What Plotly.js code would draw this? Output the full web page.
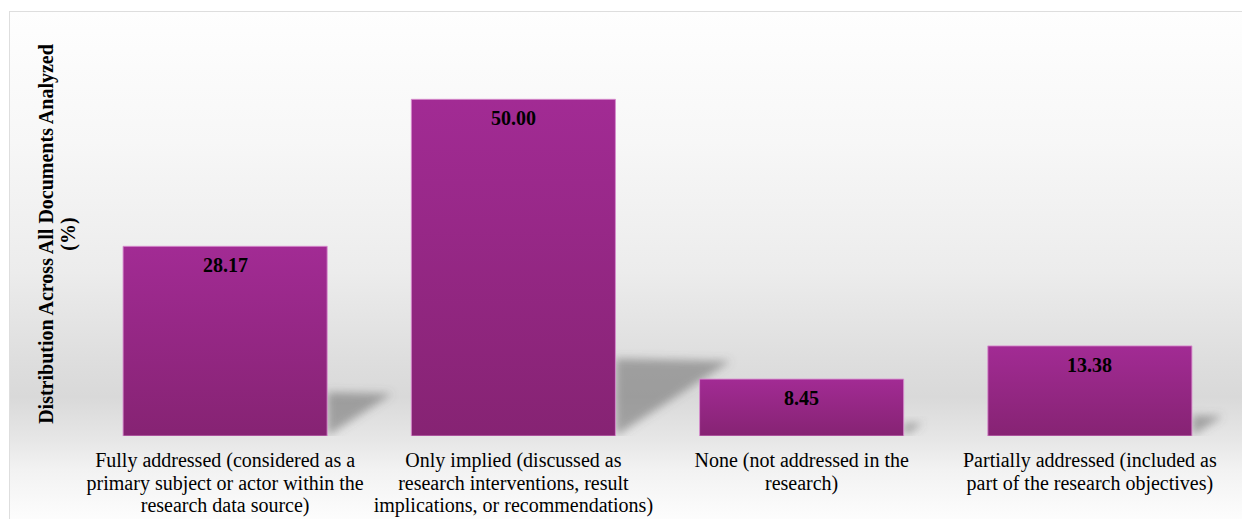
<!DOCTYPE html>
<html>
<head>
<meta charset="utf-8">
<script src="https://cdn.plot.ly/plotly-3.0.1.min.js"></script>
<style>
  html, body { margin: 0; padding: 0; background: #ffffff; }
  #wrap { position: relative; width: 1242px; height: 519px; overflow: hidden; }
  #frame {
    position: absolute; left: 9px; top: 11px; width: 1240px; height: 520px;
    border-left: 1px solid #dedede; border-top: 1px solid #dedede;
    background: linear-gradient(to bottom,
      #fefefe 0%, #f7f7f7 25%, #ececec 50%, #dddddd 68%, #d9d9d9 74%,
      #e6e6e6 82%, #f2f2f2 88%, #fafafa 95%, #ffffff 100%);
  }
  #chart { position: absolute; left: 0; top: 0; width: 1242px; height: 519px; }
</style>
</head>
<body>
<div id="wrap">
  <div id="frame"></div>
  <div id="chart"></div>
</div>
<script>
// Share of analysed documents by how the subject is addressed
const categories = [
  'Fully addressed (considered as a<br>primary subject or actor within the<br>research data source)',
  'Only implied (discussed as<br>research interventions, result<br>implications, or recommendations)',
  'None (not addressed in the<br>research)',
  'Partially addressed (included as<br>part of the research objectives)'
];
const shares = [28.17, 50.00, 8.45, 13.38];
const positions = [0, 1, 2, 3];

const serif = '"Liberation Serif", "Times New Roman", Times, serif';
const barWidth = 0.708;

// value labels sitting just inside the top of each bar
const labels = shares.map((v, i) => ({
  x: positions[i], y: v, xref: 'x', yref: 'y',
  text: v.toFixed(2), showarrow: false,
  yanchor: 'top', yshift: -6,
  font: { family: serif, size: 20, color: '#000000', weight: 700 }
}));

// soft floor shadow cast to the right of every bar
const shadows = shares.map((v, i) => {
  const xr = positions[i] + barWidth / 2;
  const h = 0.23 * v;
  const len = 0.008 * v;
  return {
    type: 'path', xref: 'x', yref: 'y', layer: 'below',
    path: `M ${xr} 0 L ${xr} ${h} L ${xr + len} ${h * 0.97} Z`,
    fillcolor: 'rgba(95,95,95,0.5)', line: { width: 0 }
  };
});

const data = [{
  type: 'bar',
  x: positions,
  y: shares,
  width: barWidth,
  marker: { color: '#952890', line: { color: 'rgba(215,140,205,0.9)', width: 1 } },
  hoverinfo: 'skip'
}];

const layout = {
  width: 1242, height: 519,
  margin: { l: 81, r: 8, t: 32, b: 83 },
  paper_bgcolor: 'rgba(0,0,0,0)',
  plot_bgcolor: 'rgba(0,0,0,0)',
  showlegend: false,
  font: { family: serif, color: '#000000' },
  xaxis: {
    type: 'linear', range: [-0.5, 3.5],
    tickmode: 'array', tickvals: positions, ticktext: categories,
    showgrid: false, zeroline: false, showline: false, ticks: '',
    tickfont: { family: serif, size: 20, color: '#000000' },
    ticklabelstandoff: 10,
    fixedrange: true
  },
  yaxis: {
    range: [0, 60], showgrid: false, zeroline: false, showline: false,
    showticklabels: false, ticks: '', fixedrange: true,
    title: {
      text: 'Distribution Across All Documents Analyzed<br>(%)',
      font: { family: serif, size: 20, color: '#000000', weight: 700 },
      standoff: 0
    }
  },
  annotations: labels,
  shapes: shadows
};

// tighten the spacing between wrapped lines of a text element
function setLineSpacing(root, selector, spacing) {
  root.querySelectorAll(selector).forEach(t => {
    t.querySelectorAll('tspan.line').forEach(ts => {
      const dy = ts.getAttribute('dy');
      if (dy && dy.endsWith('em')) {
        const n = parseFloat(dy) / 1.3;
        ts.setAttribute('dy', (n * spacing) + 'em');
      }
    });
  });
}

Plotly.newPlot('chart', data, layout, { displayModeBar: false, staticPlot: true }).then(gd => {
  const svgNS = 'http://www.w3.org/2000/svg';
  const svg = gd.querySelector('svg.main-svg');
  let defs = svg.querySelector('defs');
  if (!defs) { defs = document.createElementNS(svgNS, 'defs'); svg.insertBefore(defs, svg.firstChild); }

  // vertical shading for the bars
  const grad = document.createElementNS(svgNS, 'linearGradient');
  grad.setAttribute('id', 'barShade');
  grad.setAttribute('x1', '0'); grad.setAttribute('y1', '0');
  grad.setAttribute('x2', '0'); grad.setAttribute('y2', '1');
  [['0%', '#a22b94'], ['100%', '#862373']].forEach(([o, c]) => {
    const s = document.createElementNS(svgNS, 'stop');
    s.setAttribute('offset', o); s.setAttribute('stop-color', c);
    grad.appendChild(s);
  });
  defs.appendChild(grad);

  // blur for the shadows
  const filt = document.createElementNS(svgNS, 'filter');
  filt.setAttribute('id', 'softShadow');
  filt.setAttribute('x', '-50%'); filt.setAttribute('y', '-50%');
  filt.setAttribute('width', '200%'); filt.setAttribute('height', '200%');
  const blur = document.createElementNS(svgNS, 'feGaussianBlur');
  blur.setAttribute('stdDeviation', '4');
  filt.appendChild(blur);
  defs.appendChild(filt);

  gd.querySelectorAll('.barlayer .point path').forEach(p => { p.style.fill = 'url(#barShade)'; });
  gd.querySelectorAll('.shapelayer path').forEach(p => { p.setAttribute('filter', 'url(#softShadow)'); });

  setLineSpacing(gd, '.xtick text', 1.13);
  setLineSpacing(gd, '.g-ytitle text', 1.13);

  // nudge the axis title a little closer to the plot
  const ytitle = gd.querySelector('.g-ytitle');
  if (ytitle) ytitle.setAttribute('transform', 'translate(5,0)');
});
</script>
</body>
</html>
